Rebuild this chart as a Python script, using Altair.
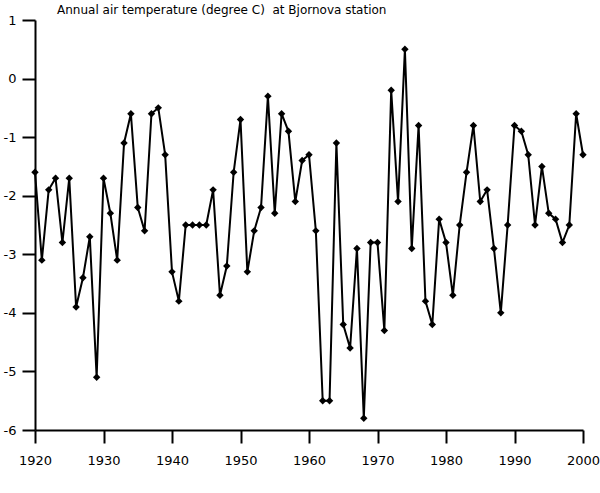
import altair as alt
import pandas as pd

years = list(range(1920, 2001))
temps = [
    -1.6, -3.1, -1.9, -1.7, -2.8, -1.7, -3.9, -3.4, -2.7, -5.1,   # 1920-1929
    -1.7, -2.3, -3.1, -1.1, -0.6, -2.2, -2.6, -0.6, -0.5, -1.3,   # 1930-1939
    -3.3, -3.8, -2.5, -2.5, -2.5, -2.5, -1.9, -3.7, -3.2, -1.6,   # 1940-1949
    -0.7, -3.3, -2.6, -2.2, -0.3, -2.3, -0.6, -0.9, -2.1, -1.4,   # 1950-1959
    -1.3, -2.6, -5.5, -5.5, -1.1, -4.2, -4.6, -2.9, -5.8, -2.8,   # 1960-1969
    -2.8, -4.3, -0.2, -2.1, 0.5, -2.9, -0.8, -3.8, -4.2, -2.4,    # 1970-1979
    -2.8, -3.7, -2.5, -1.6, -0.8, -2.1, -1.9, -2.9, -4.0, -2.5,   # 1980-1989
    -0.8, -0.9, -1.3, -2.5, -1.5, -2.3, -2.4, -2.8, -2.5, -0.6,   # 1990-1999
    -1.3,                                                          # 2000
]
title_text = "Annual air temperature (degree C)\u00a0 at Bjornova station"
y_ticks = [v / 2 for v in range(-12, 3)]
x_ticks = list(range(1920, 2001, 5))

df = pd.DataFrame({"year": years, "temp": temps})

x_axis = alt.Axis(
    values=x_ticks,
    tickSize={"condition": {"test": "datum.value % 10 !== 0", "value": 7}, "value": 13},
    labelExpr="datum.value % 10 === 0 ? '' + datum.value : ''",
    labelPadding=11,
    labelOverlap=False,
    labelFlush=False,
    title=None,
)
y_axis = alt.Axis(
    values=y_ticks,
    tickSize={"condition": {"test": "datum.value % 1 !== 0", "value": 7}, "value": 13},
    labelExpr="datum.value % 1 === 0 ? '' + datum.value : ''",
    labelPadding=6,
    labelOverlap=False,
    labelFlush=False,
    title=None,
)

x_enc = alt.X("year:Q", scale=alt.Scale(domain=[1920, 2000], nice=False, zero=False), axis=x_axis)
y_enc = alt.Y("temp:Q", scale=alt.Scale(domain=[-6, 1], nice=False, zero=False), axis=y_axis)

base = alt.Chart(df)
line = base.mark_line(color="black", strokeWidth=2).encode(x=x_enc, y=y_enc)
points = base.mark_point(shape="diamond", filled=True, color="black", size=55, opacity=1).encode(
    x="year:Q", y="temp:Q"
)
title = alt.Chart(pd.DataFrame({"t": [title_text]})).mark_text(
    align="left", baseline="middle", font="DejaVu Sans", fontSize=12, color="black"
).encode(text="t:N", x=alt.value(22), y=alt.value(-10))

chart = (
    alt.layer(line, points, title)
    .properties(
        width=548,
        height=410,
        padding={"left": 35, "top": 20, "right": 17, "bottom": 63},
        autosize=alt.AutoSizeParams(type="none"),
        background="white",
    )
    .configure_view(stroke=None)
    .configure_axis(
        domainColor="black",
        domainWidth=2,
        tickColor="black",
        tickWidth=2,
        labelColor="black",
        labelFont="DejaVu Sans",
        labelFontSize=13,
        grid=False,
    )
)

chart.save("out.html", embed_options={"renderer": "svg", "actions": False})
